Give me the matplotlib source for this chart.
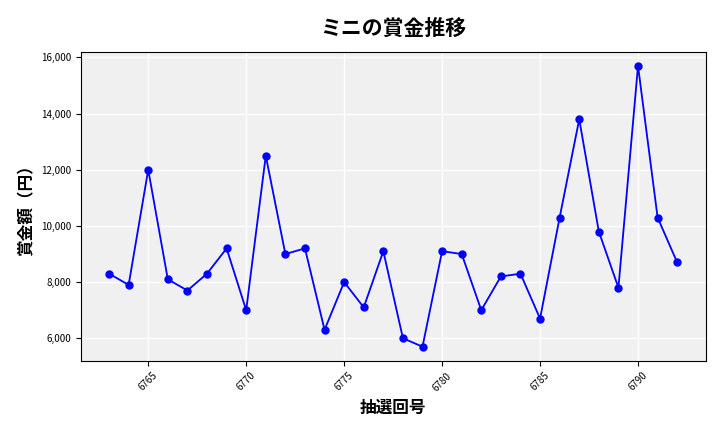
import matplotlib
matplotlib.use("Agg")
import matplotlib.pyplot as plt
from matplotlib.ticker import FuncFormatter

plt.rcParams['font.family'] = ['Noto Sans CJK JP', 'DejaVu Sans']

draws = list(range(6763, 6793))
prizes = [8300, 7900, 12000, 8100, 7700, 8300, 9200, 7000, 12500, 9000,
          9200, 6300, 8000, 7100, 9100, 6000, 5700, 9100, 9000, 7000,
          8200, 8300, 6700, 10300, 13800, 9800, 7800, 15700, 10300, 8700]

fig, ax = plt.subplots(figsize=(7.2, 4.32), dpi=100)
fig.subplots_adjust(left=0.112, right=0.98, top=0.88, bottom=0.165)
ax.set_facecolor('#f0f0f0')
ax.grid(True, color='white', linewidth=1)
ax.set_axisbelow(True)

ax.plot(draws, prizes, color='blue', marker='o', markersize=5, linewidth=1.3)

ax.set_title('ミニの賞金推移', fontsize=15, fontweight='bold', pad=12)
ax.set_xlabel('抽選回号', fontsize=12, fontweight='bold')
ax.set_ylabel('賞金額（円）', fontsize=12, fontweight='bold')
ax.yaxis.set_major_formatter(FuncFormatter(lambda v, p: f'{int(v):,}'))
ax.tick_params(axis='x', rotation=45, labelsize=7)
ax.tick_params(axis='y', labelsize=7)

fig.savefig('out.png')
